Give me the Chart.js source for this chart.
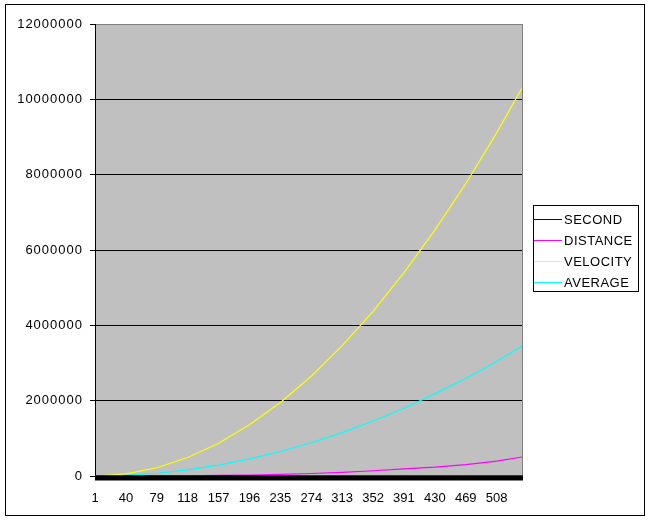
<!DOCTYPE html>
<html><head><meta charset="utf-8">
<script src="https://cdn.jsdelivr.net/npm/chart.js@4/dist/chart.umd.min.js"></script>
<style>html,body{margin:0;padding:0;background:#fff}</style>
</head><body>
<canvas id="c" width="651" height="520"></canvas>
<script>
// sample positions (category index) where values were read
const T = [1, 40, 79, 118, 157, 196, 235, 274, 313, 352, 391, 430, 469, 508, 540];
const SECOND   = [1, 40, 79, 118, 157, 196, 235, 274, 313, 352, 391, 430, 469, 508, 540];
const DISTANCE = [0, 200, 1500, 5000, 14000, 26000, 42000, 66000, 97000, 140000, 188000, 235000, 302000, 395000, 505000];
const VELOCITY = [0, 56000, 220000, 490000, 870000, 1360000, 1950000, 2650000, 3460000, 4370000, 5400000, 6530000, 7760000, 9110000, 10300000];
const AVERAGE  = [0, 19000, 73000, 163000, 290000, 453000, 650000, 883000, 1150000, 1460000, 1800000, 2180000, 2590000, 3040000, 3450000];
const X_TICKS = [1, 40, 79, 118, 157, 196, 235, 274, 313, 352, 391, 430, 469, 508];
const Y_TICKS = [0, 2000000, 4000000, 6000000, 8000000, 10000000, 12000000];
const SERIES = ["SECOND", "DISTANCE", "VELOCITY", "AVERAGE"];
const COLORS = ["#000080", "#FF00FF", "#FFFF00", "#00FFFF"];
const VALUES = [SECOND, DISTANCE, VELOCITY, AVERAGE];

const FONT = '"Liberation Sans", Arial, sans-serif';

const deco = {
  id: 'deco',
  beforeDraw(chart) {
    const {ctx, chartArea: a} = chart;
    ctx.save();
    ctx.fillStyle = '#fff';
    ctx.fillRect(0, 0, chart.width, chart.height);
    ctx.fillStyle = '#C0C0C0';
    ctx.fillRect(a.left, a.top, a.right - a.left, a.bottom - a.top);
    ctx.restore();
    const y = chart.scales.y;
    if (y && !y._ls) {
      const o = y.drawLabels;
      y.drawLabels = function (ar) {
        const c = this.ctx; c.save(); c.letterSpacing = '1px'; o.call(this, ar); c.restore();
      };
      y._ls = true;
    }
  },
  afterDatasetsDraw(chart) {
    const {ctx, chartArea: a} = chart;
    ctx.save();
    ctx.strokeStyle = '#808080'; ctx.lineWidth = 1;
    ctx.beginPath(); ctx.moveTo(a.right + 0.5, a.top); ctx.lineTo(a.right + 0.5, a.bottom); ctx.stroke();
    ctx.fillStyle = '#000';
    ctx.fillRect(a.left, a.bottom - 0.5, a.right - a.left + 1, 5);
    ctx.restore();
  },
  afterDraw(chart) {
    const {ctx} = chart;
    ctx.save();
    ctx.strokeStyle = '#000'; ctx.lineWidth = 1;
    ctx.strokeRect(5.5, 4.5, 639, 511);
    ctx.strokeRect(533.5, 205.5, 105, 86);
    ctx.font = '13px ' + FONT;
    ctx.textBaseline = 'middle';
    ctx.textAlign = 'left';
    ctx.letterSpacing = '0.5px';
    chart.data.datasets.forEach((ds, i) => {
      const yy = 219 + i * 21;
      ctx.strokeStyle = ds.borderColor;
      ctx.beginPath(); ctx.moveTo(534, yy + 0.5); ctx.lineTo(562, yy + 0.5); ctx.stroke();
      ctx.fillStyle = '#000';
      ctx.fillText(ds.label, 564, yy + 1);
    });
    ctx.restore();
  }
};

new Chart(document.getElementById('c'), {
  type: 'line',
  data: {
    datasets: SERIES.map((name, i) => ({
      label: name,
      data: T.map((t, j) => ({x: t, y: VALUES[i][j]})),
      borderColor: COLORS[i],
      backgroundColor: COLORS[i],
      borderWidth: 1.2,
      pointRadius: 0,
      fill: false,
      tension: 0
    }))
  },
  options: {
    responsive: false,
    animation: false,
    devicePixelRatio: 1,
    layout: {padding: {left: 0, top: 24, right: 129, bottom: 0}},
    plugins: {legend: {display: false}, tooltip: {enabled: false}},
    scales: {
      x: {
        type: 'linear',
        min: 1, max: 540,
        afterBuildTicks: s => { s.ticks = X_TICKS.map(v => ({value: v})); },
        afterFit: s => { s.height = 44; },
        grid: {display: false, drawTicks: false},
        border: {display: false},
        ticks: {
          autoSkip: false, maxRotation: 0, padding: 15,
          color: '#000', font: {family: FONT, size: 13},
          callback: v => String(v)
        }
      },
      y: {
        min: 0, max: 12000000,
        afterBuildTicks: s => { s.ticks = Y_TICKS.map(v => ({value: v})); },
        afterFit: s => { s.width = 95; },
        grid: {
          color: c => (c.tick && c.tick.value === 12000000) ? '#808080' : '#000',
          lineWidth: 1, tickLength: 5, tickColor: '#000'
        },
        border: {display: true, color: '#000', width: 1},
        ticks: {
          padding: 7, color: '#000', font: {family: FONT, size: 13},
          callback: v => String(v)
        }
      }
    }
  },
  plugins: [deco]
});
</script>
</body></html>
